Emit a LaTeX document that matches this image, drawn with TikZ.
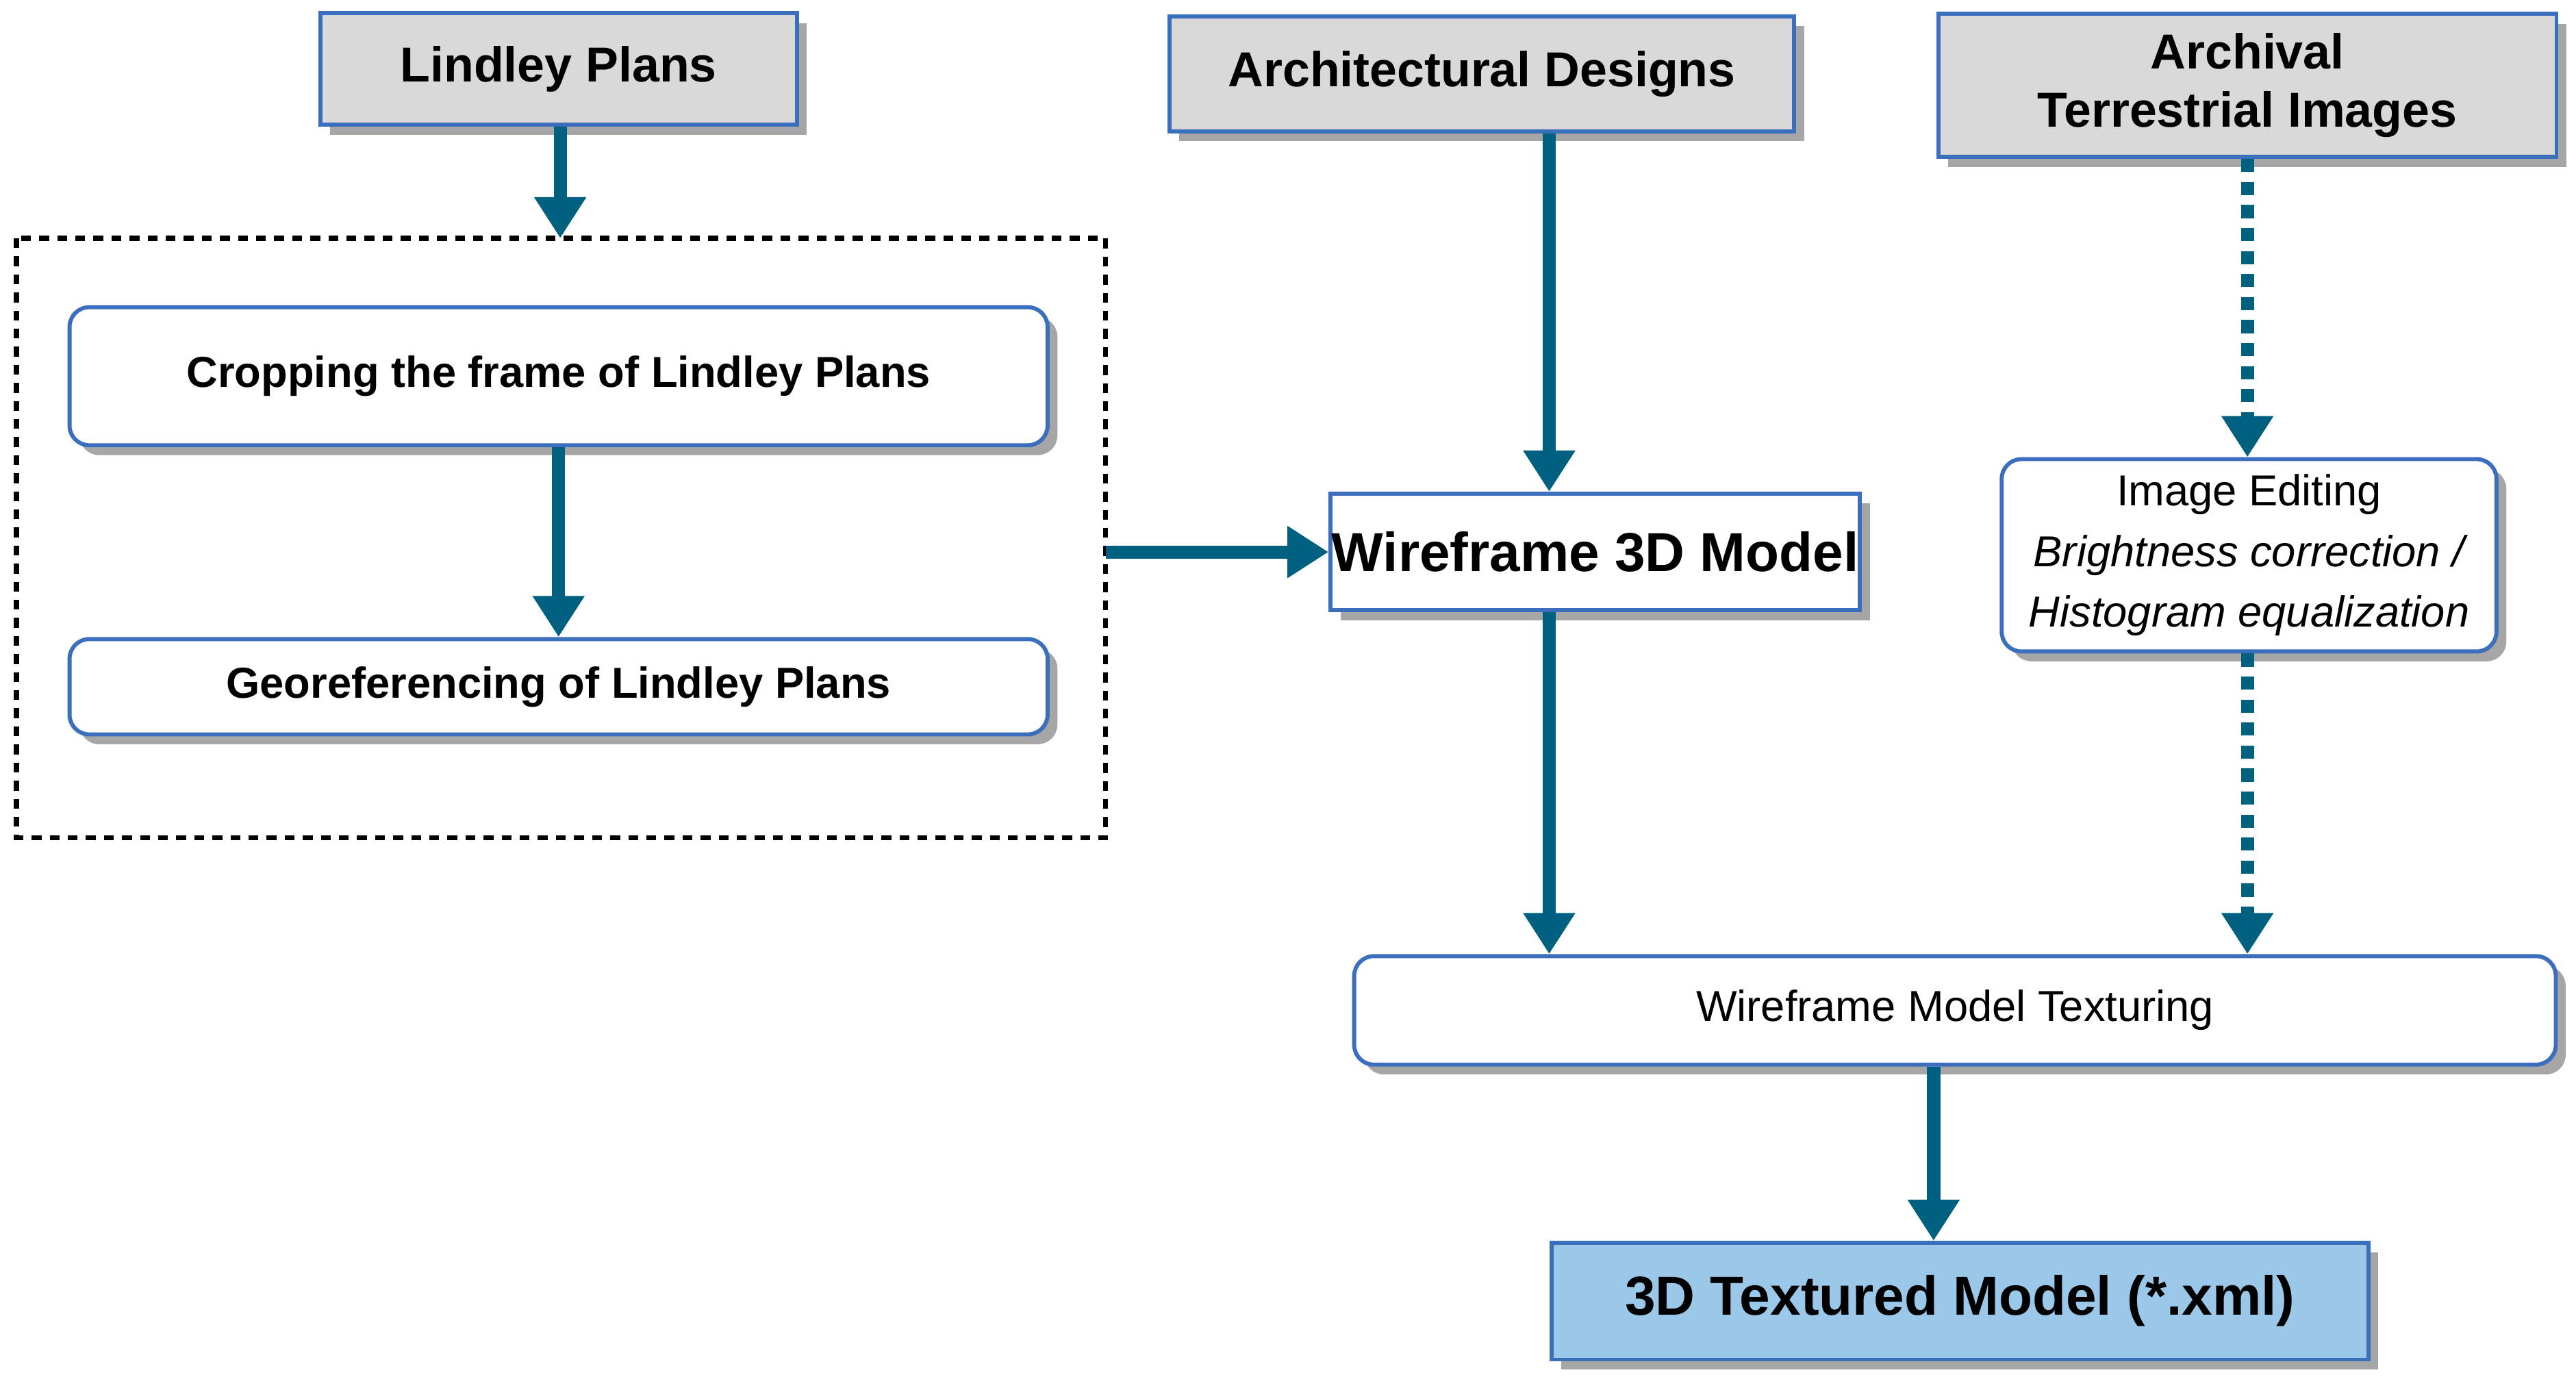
\documentclass[tikz,border=0pt]{standalone}
\usepackage{fontspec}
\setmainfont{Liberation Sans}
\usetikzlibrary{arrows.meta,shadows}
\definecolor{arr}{RGB}{0,96,128}
\definecolor{bord}{RGB}{60,110,190}
\definecolor{hdr}{RGB}{217,217,217}
\definecolor{res}{RGB}{155,200,232}
\tikzset{
 box/.style={draw=bord,line width=0.7pt,drop shadow={shadow xshift=0.06cm,shadow yshift=-0.06cm,fill=gray!70,opacity=1},align=center,inner sep=0pt},
 hd/.style={box,fill=hdr,font=\fontsize{8.5}{10}\selectfont\bfseries},
 rb/.style={box,fill=white,rounded corners=0.12cm},
 ar/.style={draw=arr,line width=0.08cm,-{Triangle[length=0.25cm,width=0.3cm]}},
 dar/.style={ar,dash pattern=on 0.08cm off 0.06cm}
}
\begin{document}
\begin{tikzpicture}[x=0.01cm,y=-0.01cm]
\useasboundingbox (0,0) rectangle (1568,838);
\node[hd,minimum width=290\pgflinewidth*0+2.9cm,minimum height=0.68cm] (lp) at (340,42) {Lindley Plans};
\node[hd,minimum width=3.8cm,minimum height=0.7cm] (ad) at (902,45) {Architectural Designs};
\node[hd,minimum width=3.76cm,minimum height=0.87cm] (ati) at (1368,52) {Archival\\Terrestrial Images};
\draw[dashed,line width=0.9pt,dash pattern=on 0.06cm off 0.05cm] (10,145) rectangle (673,510);
\coordinate (dbtop) at (341,145);
\coordinate (dbright) at (673,336);
\node[rb,minimum width=5.95cm,minimum height=0.84cm,font=\fontsize{7.5}{9}\selectfont\bfseries] (crop) at (340,229) {Cropping the frame of Lindley Plans};
\node[rb,minimum width=5.95cm,minimum height=0.58cm,font=\fontsize{7.5}{9}\selectfont\bfseries] (geo) at (340,418) {Georeferencing of Lindley Plans};
\node[box,fill=white,minimum width=3.22cm,minimum height=0.71cm,font=\fontsize{9.5}{11}\selectfont\bfseries] (wf) at (971,336) {Wireframe 3D Model};
\node[rb,minimum width=3.01cm,minimum height=1.17cm,font=\fontsize{7.5}{10.5}\selectfont] (ie) at (1369,338) {Image Editing\\\itshape Brightness correction /\\\itshape Histogram equalization};
\node[rb,minimum width=7.31cm,minimum height=0.66cm,font=\fontsize{7.5}{9}\selectfont] (tex) at (1190,615) {Wireframe Model Texturing};
\node[box,fill=res,minimum width=4.97cm,minimum height=0.71cm,font=\fontsize{9.5}{11}\selectfont\bfseries] (tm) at (1193,792) {3D Textured Model (*.xml)};
\draw[ar] (lp.south -| dbtop) -- (dbtop);
\draw[ar] (crop.south) -- (geo.north);
\draw[ar] (dbright) -- (wf.west);
\draw[ar] (ad.south -| 943,0) -- (wf.north -| 943,0);
\draw[ar] (wf.south -| 943,0) -- (tex.north -| 943,0);
\draw[dar] (ati.south) -- (ie.north -| ati.south);
\draw[dar] (ie.south -| ati.south) -- (tex.north -| ati.south);
\draw[ar] (tex.south -| 1177,0) -- (tm.north -| 1177,0);
\end{tikzpicture}
\end{document}
